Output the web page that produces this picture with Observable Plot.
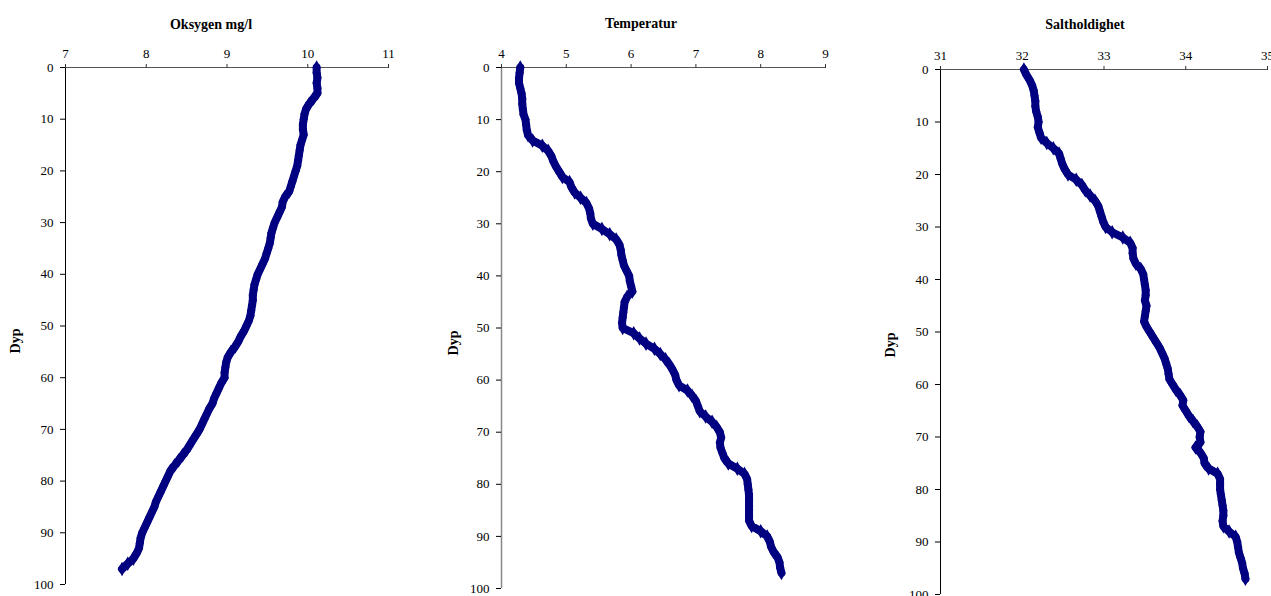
<!DOCTYPE html>
<html>
<head>
<meta charset="utf-8">
<script src="https://cdn.jsdelivr.net/npm/d3@7"></script>
<script src="https://cdn.jsdelivr.net/npm/@observablehq/plot@0.6"></script>
<style>
  html, body { margin: 0; padding: 0; background: #fff; overflow: hidden; }
  #wrap { position: relative; width: 1271px; height: 596px; overflow: hidden; background: #fff; }
  .panel { position: absolute; top: 0; }
  .title, .ylab { position: absolute; font-family: "Liberation Serif", "Times New Roman", serif; font-weight: bold; font-size: 14px; color: #000; white-space: nowrap; }
  .title { transform: translate(-50%, -50%); }
  .ylab { transform: translate(-50%, -50%) rotate(-90deg); }
</style>
</head>
<body>
<div id="wrap"></div>
<script>
// ---- Data ----
const depth = [0,1,2,3,4,5,6,7,8,9,10,11,12,13,14,15,16,17,18,19,20,21,22,23,24,25,26,27,28,29,30,31,32,33,34,35,36,37,38,39,40,41,42,43,44,45,46,47,48,49,50,51,52,53,54,55,56,57,58,59,60,61,62,63,64,65,66,67,68,69,70,71,72,73,74,75,76,77,78,79,80,81,82,83,84,85,86,87,88,89,90,91,92,93,94,95,96,97];

const oxygen = [10.11,10.11,10.12,10.11,10.12,10.12,10.07,10.02,9.98,9.96,9.95,9.94,9.94,9.95,9.93,9.91,9.90,9.89,9.88,9.87,9.85,9.83,9.81,9.79,9.77,9.72,9.69,9.68,9.65,9.62,9.59,9.57,9.55,9.54,9.53,9.51,9.49,9.47,9.44,9.41,9.38,9.36,9.34,9.33,9.32,9.32,9.31,9.30,9.29,9.27,9.24,9.21,9.17,9.14,9.10,9.05,9.01,8.99,8.98,8.97,8.97,8.93,8.90,8.87,8.84,8.82,8.78,8.75,8.72,8.69,8.66,8.62,8.58,8.54,8.50,8.45,8.40,8.35,8.30,8.27,8.24,8.21,8.18,8.15,8.12,8.10,8.07,8.04,8.01,7.98,7.95,7.93,7.92,7.91,7.88,7.84,7.77,7.70];

const temperature = [4.29,4.28,4.27,4.27,4.29,4.31,4.32,4.32,4.33,4.34,4.37,4.38,4.39,4.41,4.48,4.63,4.72,4.77,4.80,4.84,4.89,4.94,5.05,5.08,5.13,5.22,5.31,5.35,5.37,5.38,5.41,5.55,5.67,5.77,5.82,5.84,5.85,5.87,5.89,5.93,5.97,5.98,6.00,6.02,5.94,5.90,5.89,5.88,5.87,5.86,5.87,6.04,6.13,6.23,6.36,6.45,6.53,6.59,6.64,6.68,6.70,6.74,6.87,6.94,7.00,7.03,7.06,7.15,7.25,7.32,7.37,7.39,7.37,7.38,7.41,7.44,7.50,7.64,7.75,7.79,7.80,7.81,7.82,7.82,7.82,7.82,7.82,7.82,7.86,8.00,8.10,8.14,8.16,8.20,8.26,8.29,8.30,8.32];

const salinity = [32.02,32.05,32.09,32.12,32.14,32.15,32.16,32.16,32.17,32.19,32.20,32.19,32.21,32.23,32.30,32.38,32.45,32.47,32.49,32.52,32.56,32.66,32.73,32.77,32.83,32.89,32.93,32.95,32.97,32.99,33.02,33.10,33.23,33.32,33.35,33.35,33.36,33.39,33.45,33.48,33.49,33.50,33.51,33.51,33.50,33.52,33.51,33.50,33.49,33.52,33.56,33.60,33.64,33.68,33.71,33.74,33.76,33.78,33.79,33.80,33.84,33.88,33.93,33.97,33.96,34.00,34.04,34.09,34.14,34.18,34.17,34.18,34.12,34.18,34.22,34.23,34.28,34.39,34.42,34.42,34.42,34.43,34.44,34.45,34.46,34.46,34.45,34.46,34.53,34.61,34.63,34.64,34.65,34.67,34.69,34.70,34.72,34.73];

const titles = ["Oksygen mg/l", "Temperatur", "Saltholdighet"];
const yLabel = "Dyp";
const yTicks = [0,10,20,30,40,50,60,70,80,90,100];
const oxygenTicks = [7,8,9,10,11];
const temperatureTicks = [4,5,6,7,8,9];
const salinityTicks = [31,32,33,34,35];

// ---- Layout ----
const panels = [
  {values: oxygen, ticks: oxygenTicks, left: 0, width: 420, mL: 65, mR: 32, mT: 67, mB: 12, yAxisColor: "#000", yAxisWidth: 1,
   title: titles[0], tx: 211, ty: 25, lx: 16, ly: 341},
  {values: temperature, ticks: temperatureTicks, left: 420, width: 430, mL: 81, mR: 25, mT: 67, mB: 8, yAxisColor: "#888", yAxisWidth: 1.5,
   title: titles[1], tx: 641, ty: 24, lx: 454, ly: 343},
  {values: salinity, ticks: salinityTicks, left: 850, width: 421, mL: 90, mR: 4, mT: 69, mB: 2, yAxisColor: "#000", yAxisWidth: 1,
   title: titles[2], tx: 1085, ty: 25, lx: 891, ly: 345}
];

const wrap = document.getElementById("wrap");
const navy = "#000080";

for (const p of panels) {
  const data = depth.map((d, i) => ({depth: d, value: p.values[i]}));
  const xmin = p.ticks[0], xmax = p.ticks[p.ticks.length - 1];
  const chart = Plot.plot({
    width: p.width,
    height: 596,
    marginLeft: p.mL,
    marginRight: p.mR,
    marginTop: p.mT,
    marginBottom: p.mB,
    style: {fontFamily: "'Liberation Serif', 'Times New Roman', serif", fontSize: "13px", color: "#000", background: "transparent", overflow: "visible"},
    x: {domain: [xmin, xmax]},
    y: {domain: [0, 100], reverse: true},
    marks: [
      Plot.ruleX([xmin], {stroke: p.yAxisColor, strokeWidth: p.yAxisWidth}),
      Plot.ruleY([0], {stroke: "#555"}),
      Plot.axisX({anchor: "top", ticks: p.ticks, tickFormat: d => String(d), tickSize: 4, tickPadding: 6, label: null, stroke: "#333"}),
      Plot.axisY({anchor: "left", ticks: yTicks, tickFormat: d => String(d), tickSize: 5, tickPadding: 7, label: null}),
      Plot.line(data, {x: "value", y: "depth", stroke: navy, strokeWidth: 8, strokeLinejoin: "round", strokeLinecap: "round"}),
      Plot.dot(data, {x: "value", y: "depth", symbol: "diamond", r: 4.4, fill: navy, stroke: "none"})
    ]
  });
  chart.classList.add("panel");
  chart.style.left = p.left + "px";
  chart.style.position = "absolute";
  chart.style.top = "0px";
  wrap.appendChild(chart);

  const t = document.createElement("div");
  t.className = "title";
  t.textContent = p.title;
  t.style.left = p.tx + "px";
  t.style.top = p.ty + "px";
  wrap.appendChild(t);

  const l = document.createElement("div");
  l.className = "ylab";
  l.textContent = yLabel;
  l.style.left = p.lx + "px";
  l.style.top = p.ly + "px";
  wrap.appendChild(l);
}
</script>
</body>
</html>
